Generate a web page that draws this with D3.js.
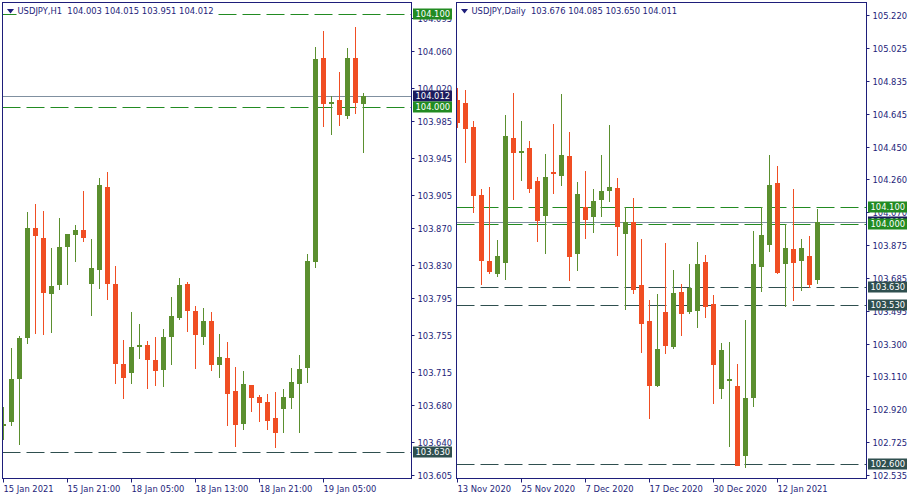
<!DOCTYPE html>
<html><head><meta charset="utf-8">
<script src="https://cdn.jsdelivr.net/npm/d3@7/dist/d3.min.js"></script>
<style>
body{margin:0;background:#fff}
svg{display:block}
text{font-family:"DejaVu Sans Condensed","DejaVu Sans",sans-serif;font-size:9.3px;white-space:pre}
</style>
</head><body>
<svg id="c" width="915" height="500"></svg>
<script>
// ---------------- DATA ----------------
// H1 chart (left)
const h1Title = "USDJPY,H1  104.003 104.015 103.951 104.012";
const h1Times = ["15 Jan 13:00","15 Jan 14:00","15 Jan 15:00","15 Jan 16:00","15 Jan 17:00","15 Jan 18:00","15 Jan 19:00","15 Jan 20:00",
  "15 Jan 21:00","15 Jan 22:00","15 Jan 23:00","18 Jan 00:00","18 Jan 01:00","18 Jan 02:00","18 Jan 03:00","18 Jan 04:00",
  "18 Jan 05:00","18 Jan 06:00","18 Jan 07:00","18 Jan 08:00","18 Jan 09:00","18 Jan 10:00","18 Jan 11:00","18 Jan 12:00",
  "18 Jan 13:00","18 Jan 14:00","18 Jan 15:00","18 Jan 16:00","18 Jan 17:00","18 Jan 18:00","18 Jan 19:00","18 Jan 20:00",
  "18 Jan 21:00","18 Jan 22:00","18 Jan 23:00","19 Jan 00:00","19 Jan 01:00","19 Jan 02:00","19 Jan 03:00","19 Jan 04:00",
  "19 Jan 05:00","19 Jan 06:00","19 Jan 07:00","19 Jan 08:00","19 Jan 09:00","19 Jan 10:00"];
const h1Open  = [103.658,103.662,103.708,103.752,103.870,103.859,103.799,103.809,103.850,103.863,103.868,103.810,103.825,103.914,103.810,103.724,
  103.714,103.743,103.744,103.728,103.718,103.753,103.773,103.810,103.781,103.753,103.770,103.723,103.731,103.695,103.660,103.702,
  103.689,103.683,103.666,103.676,103.688,103.703,103.720,103.834,104.052,104.003,104.007,103.990,104.052,104.003];
const h1High  = [103.678,103.741,103.754,103.887,103.896,103.888,103.849,103.881,103.864,103.873,103.910,103.858,103.924,103.930,103.829,103.750,
  103.780,103.767,103.749,103.753,103.762,103.796,103.816,103.812,103.786,103.784,103.780,103.756,103.748,103.721,103.717,103.702,
  103.691,103.692,103.694,103.697,103.720,103.734,103.842,104.064,104.081,104.012,104.037,104.063,104.086,104.015];
const h1Low   = [103.643,103.658,103.637,103.746,103.756,103.755,103.757,103.803,103.809,103.834,103.855,103.776,103.805,103.793,103.703,103.687,
  103.703,103.730,103.697,103.701,103.699,103.723,103.771,103.758,103.719,103.744,103.717,103.709,103.658,103.635,103.653,103.673,
  103.662,103.653,103.634,103.650,103.676,103.650,103.704,103.827,103.978,103.970,103.980,103.987,103.992,103.951];
const h1Close = [103.660,103.708,103.752,103.870,103.861,103.800,103.808,103.850,103.864,103.868,103.859,103.827,103.916,103.810,103.724,103.709,
  103.742,103.744,103.728,103.717,103.753,103.776,103.809,103.781,103.755,103.770,103.723,103.732,103.692,103.659,103.703,103.688,
  103.682,103.663,103.650,103.689,103.705,103.719,103.835,104.051,104.003,104.005,103.991,104.052,104.004,104.012];
const h1YTicks = [104.095,104.060,104.020,103.985,103.945,103.905,103.870,103.830,103.795,103.755,103.715,103.680,103.640,103.605];
const h1XTickIdx = [0,8,16,24,32,40];
const h1XTickLabels = ["15 Jan 2021","15 Jan 21:00","18 Jan 05:00","18 Jan 13:00","18 Jan 21:00","19 Jan 05:00"];
const h1GreenLevels = [104.100,104.000];
const h1GrayLevels = [103.630];
const h1Bid = 104.012;

// Daily chart (right)
const d1Title = "USDJPY,Daily  103.676 104.085 103.650 104.011";
const d1Dates = ["13 Nov","16 Nov","17 Nov","18 Nov","19 Nov","20 Nov","23 Nov","24 Nov","25 Nov","26 Nov","27 Nov","30 Nov",
  "1 Dec","2 Dec","3 Dec","4 Dec","7 Dec","8 Dec","9 Dec","10 Dec","11 Dec","14 Dec","15 Dec","16 Dec","17 Dec","18 Dec",
  "21 Dec","22 Dec","23 Dec","24 Dec","28 Dec","29 Dec","30 Dec","31 Dec","4 Jan","5 Jan","6 Jan","7 Jan","8 Jan",
  "11 Jan","12 Jan","13 Jan","14 Jan","15 Jan","18 Jan","19 Jan"];
const d1Open  = [104.724,104.705,104.567,104.170,103.784,103.710,103.774,104.502,104.421,104.444,104.251,104.049,104.304,104.282,104.397,103.827,
  104.100,104.043,104.142,104.195,104.211,103.944,104.010,103.644,103.434,103.056,103.487,103.284,103.603,103.488,103.494,103.778,
  103.533,103.039,103.086,103.055,102.648,102.986,103.751,103.879,104.240,103.769,103.854,103.786,103.814,103.676];
const d1High  = [104.794,104.783,104.602,104.205,104.216,103.907,104.637,104.765,104.602,104.485,104.275,104.409,104.584,104.759,104.537,104.246,
  104.310,104.205,104.403,104.578,104.269,104.100,104.152,103.913,103.557,103.592,103.889,103.732,103.650,103.767,103.895,103.819,
  103.586,103.306,103.311,103.183,103.440,103.959,104.100,104.403,104.339,104.000,104.205,103.913,103.930,104.085];
const d1Low   = [104.563,104.358,104.066,103.646,103.710,103.693,103.675,104.142,104.253,104.183,103.897,103.827,104.177,104.224,103.669,103.728,
  103.915,103.950,104.043,104.131,103.815,103.498,103.593,103.249,102.864,103.050,103.243,103.272,103.348,103.477,103.395,103.453,
  102.951,102.980,102.700,102.586,102.578,102.934,103.602,103.839,103.710,103.518,103.553,103.611,103.628,103.650];
const d1Close = [104.588,104.557,104.166,103.786,103.722,103.814,104.514,104.417,104.428,104.206,104.020,104.275,104.294,104.403,103.809,104.175,
  104.025,104.135,104.193,104.216,103.985,104.010,103.617,103.418,103.056,103.271,103.290,103.598,103.477,103.627,103.767,103.518,
  103.179,103.265,103.094,102.586,102.985,103.767,103.936,104.228,103.716,103.860,103.774,103.860,103.646,104.011];
const d1YTicks = [105.220,105.025,104.835,104.645,104.450,104.260,104.070,103.875,103.685,103.495,103.300,103.110,102.920,102.725,102.535];
const d1XTickIdx = [0,8,16,24,32,40];
const d1XTickLabels = ["13 Nov 2020","25 Nov 2020","7 Dec 2020","17 Dec 2020","30 Dec 2020","12 Jan 2021"];
const d1GreenLevels = [104.100,104.000];
const d1GrayLevels = [103.630,103.530,102.600];
const d1Bid = 104.011;

// ---------------- STYLE ----------------
const NAVY = "#1e1e7a", UP = "#5b8f2f", DOWN = "#f04e23";
const GREEN_LVL = "#228b22", GRAY_LVL = "#2f4f4f", BID_LINE = "#8090a0", BID_BOX = "#1c1c5e";

const svg = d3.select("#c");

function drawPanel(p, id) {
  const g = svg.append("g");
  const y = d3.scaleLinear().domain(p.yAnchor).range(p.yAnchorPx);
  const x = d3.scaleLinear().domain([0, 1]).range([p.c0, p.c0 + p.step]);
  const py = v => Math.round(y(v)) + 0.5;

  g.append("clipPath").attr("id", "clip" + id).append("rect")
    .attr("x", p.left + 0.5).attr("y", p.top + 0.5)
    .attr("width", p.right - p.left - 1).attr("height", p.bottom - p.top - 1);
  const plot = g.append("g").attr("clip-path", `url(#clip${id})`);

  // level lines
  p.green.forEach(v => plot.append("line").attr("x1", p.left).attr("x2", p.right)
    .attr("y1", py(v)).attr("y2", py(v)).attr("stroke", GREEN_LVL).attr("stroke-dasharray", "18,6"));
  p.gray.forEach(v => plot.append("line").attr("x1", p.left).attr("x2", p.right)
    .attr("y1", py(v)).attr("y2", py(v)).attr("stroke", GRAY_LVL).attr("stroke-dasharray", "18,6"));
  plot.append("line").attr("x1", p.left).attr("x2", p.right)
    .attr("y1", py(p.bid)).attr("y2", py(p.bid)).attr("stroke", BID_LINE);

  // candles
  const n = p.open.length;
  const cg = plot.append("g").attr("shape-rendering", "crispEdges");
  for (let i = 0; i < n; i++) {
    const o = p.open[i], h = p.high[i], l = p.low[i], c = p.close[i];
    const col = c >= o ? UP : DOWN;
    const cx = Math.round(x(i));
    const yh = Math.round(y(h)), yl = Math.round(y(l));
    const yo = Math.round(y(o)), yc = Math.round(y(c));
    cg.append("rect").attr("x", cx).attr("y", yh).attr("width", 1).attr("height", Math.max(1, yl - yh)).attr("fill", col);
    const top = Math.min(yo, yc), ht = Math.max(2, Math.abs(yo - yc));
    cg.append("rect").attr("x", cx - 2).attr("y", top).attr("width", 5).attr("height", ht).attr("fill", col);
  }

  // frame
  g.append("rect").attr("x", p.left).attr("y", p.top).attr("width", p.right - p.left)
    .attr("height", p.bottom - p.top).attr("fill", "none").attr("stroke", NAVY).attr("shape-rendering", "crispEdges");

  // header
  const ht = g.append("text").attr("x", p.left + 15).attr("y", p.top + 11.5).attr("fill", NAVY).text(p.title);
  const bb = ht.node().getBBox();
  g.insert("rect", "text").attr("x", bb.x - 1).attr("y", bb.y).attr("width", bb.width + 3).attr("height", bb.height).attr("fill", "#fff");
  g.append("path").attr("d", `M${p.left + 4.5},${p.top + 6.5}h7l-3.5,4.5z`).attr("fill", NAVY);

  // y ticks
  const ax = g.append("g");
  p.yTicks.forEach(v => {
    const yy = py(v);
    ax.append("line").attr("x1", p.right).attr("x2", p.right + 3).attr("y1", yy).attr("y2", yy).attr("stroke", NAVY);
    ax.append("text").attr("x", p.right + 6).attr("y", yy).attr("dy", "0.35em").attr("fill", NAVY).text(v.toFixed(3));
  });

  // level labels
  function label(v, fill) {
    const yy = Math.round(y(v));
    ax.append("rect").attr("x", p.right + 1.5).attr("y", yy - 5.5).attr("width", 39).attr("height", 11).attr("fill", fill);
    ax.append("text").attr("x", p.right + 4).attr("y", yy).attr("dy", "0.35em").attr("fill", "#fff").text(v.toFixed(3));
  }
  label(p.bid, BID_BOX);
  p.green.forEach(v => label(v, GREEN_LVL));
  p.gray.forEach(v => label(v, GRAY_LVL));

  // x ticks
  p.xIdx.forEach((idx, k) => {
    const xx = Math.round(x(idx)) + 0.5;
    ax.append("line").attr("x1", xx).attr("x2", xx).attr("y1", p.bottom).attr("y2", p.bottom + 4).attr("stroke", NAVY);
    ax.append("text").attr("x", xx).attr("y", p.bottom + 13).attr("fill", NAVY).text(p.xLabels[k]);
  });
}

drawPanel({left: 2.5, right: 411.5, top: 2.5, bottom: 478.5, yAnchor: [103.605, 104.060], yAnchorPx: [475, 51],
  c0: 3, step: 8, title: h1Title, open: h1Open, high: h1High, low: h1Low, close: h1Close,
  yTicks: h1YTicks, xIdx: h1XTickIdx, xLabels: h1XTickLabels, green: h1GreenLevels, gray: h1GrayLevels, bid: h1Bid}, 0);

drawPanel({left: 456.5, right: 866.5, top: 2.5, bottom: 478.5, yAnchor: [102.535, 105.220], yAnchorPx: [475, 15],
  c0: 457, step: 8, title: d1Title, open: d1Open, high: d1High, low: d1Low, close: d1Close,
  yTicks: d1YTicks, xIdx: d1XTickIdx, xLabels: d1XTickLabels, green: d1GreenLevels, gray: d1GrayLevels, bid: d1Bid}, 1);
</script>
</body></html>
